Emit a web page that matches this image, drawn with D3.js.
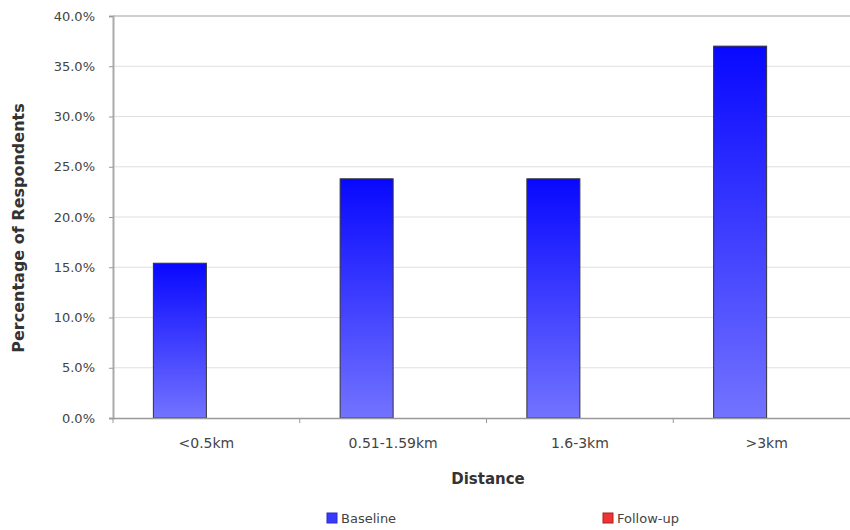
<!DOCTYPE html>
<html><head><meta charset="utf-8">
<script src="https://cdn.jsdelivr.net/npm/d3@7"></script>
<style>body{margin:0;background:#fff}svg{display:block}text{font-family:"DejaVu Sans",sans-serif}</style>
</head><body>
<svg id="c" width="850" height="530"></svg>
<script>
const categories = ["<0.5km","0.51-1.59km","1.6-3km",">3km"];
const seriesNames = ["Baseline","Follow-up"];
const baseline = [15.4, 23.8, 23.8, 37.0];
const followup = [null, null, null, null];
const yTicks = [0,5,10,15,20,25,30,35,40];

const svg = d3.select("#c");
const m = {l:113, t:16, r:-10, b:112};
const W = 850, H = 530;
const x = d3.scaleBand().domain(categories).range([m.l, W - m.r]).paddingInner(0).paddingOuter(0);
const y = d3.scaleLinear().domain([0,40]).range([H - m.b, m.t]);

const defs = svg.append("defs");
const g1 = defs.append("linearGradient").attr("id","gb").attr("x1",0).attr("y1",0).attr("x2",0).attr("y2",1);
g1.append("stop").attr("offset","0%").attr("stop-color","#0808ff");
g1.append("stop").attr("offset","100%").attr("stop-color","#7373ff");

// gridlines
svg.append("g").selectAll("line").data(yTicks.filter(d=>d>0)).join("line")
  .attr("x1", m.l).attr("x2", W).attr("y1", d=>y(d)).attr("y2", d=>y(d))
  .attr("stroke", d=> d===40 ? "#cfcfcf" : "#e0e0e0").attr("stroke-width", d=> d===40 ? 2 : 1);

// bars (Baseline occupies the left half of each group; Follow-up has no values)
const bw = 53;
svg.append("g").selectAll("rect").data(baseline.map((v,i)=>({c:categories[i], v}))).join("rect")
  .attr("x", d=> x(d.c) + x.bandwidth()/2 - bw)
  .attr("width", bw)
  .attr("y", d=> y(d.v))
  .attr("height", d=> y(0) - y(d.v))
  .attr("fill","url(#gb)").attr("stroke","#333").attr("stroke-width",1);

// y axis
const ya = svg.append("g").attr("transform",`translate(${m.l},0)`)
  .call(d3.axisLeft(y).tickValues(yTicks).tickSize(4).tickPadding(14).tickFormat(d=>d.toFixed(1)+"%"));
ya.select(".domain").attr("stroke","#aaa").attr("stroke-width",2);
ya.selectAll(".tick line").attr("stroke","#999");
ya.selectAll(".tick text").attr("fill","#444").style("font-size","13px");

// x axis
const xa = svg.append("g").attr("transform",`translate(0,${y(0)})`)
  .call(d3.axisBottom(x).tickSize(0).tickPadding(20));
xa.select(".domain").attr("stroke","#999").attr("stroke-width",1.5);
xa.selectAll(".tick text").attr("fill","#444").style("font-size","14px");
svg.append("g").selectAll("line").data(categories).join("line")
  .attr("x1", d=>x(d)).attr("x2", d=>x(d)).attr("y1", y(0)).attr("y2", y(0)+5)
  .attr("stroke","#999");

// titles
svg.append("text").attr("x", 488).attr("y", 484).attr("text-anchor","middle")
  .style("font-size","15px").style("font-weight","bold").attr("fill","#333").text("Distance");
svg.append("text").attr("transform","translate(24,228) rotate(-90)").attr("text-anchor","middle")
  .style("font-size","16px").style("font-weight","bold").attr("fill","#333").text("Percentage of Respondents");

// legend
const legX = [327, 603];
const legC = [["#3a3aff","#2a2acc"],["#ee3333","#aa2222"]];
const lg = svg.append("g").selectAll("g").data(seriesNames).join("g")
  .attr("transform",(d,i)=>`translate(${legX[i]},513)`);
lg.append("rect").attr("width",10).attr("height",10).attr("fill",(d,i)=>legC[i][0]).attr("stroke",(d,i)=>legC[i][1]);
lg.append("text").attr("x",14).attr("y",9.5).style("font-size","13px").attr("fill","#444").text(d=>d);
</script>
</body></html>
